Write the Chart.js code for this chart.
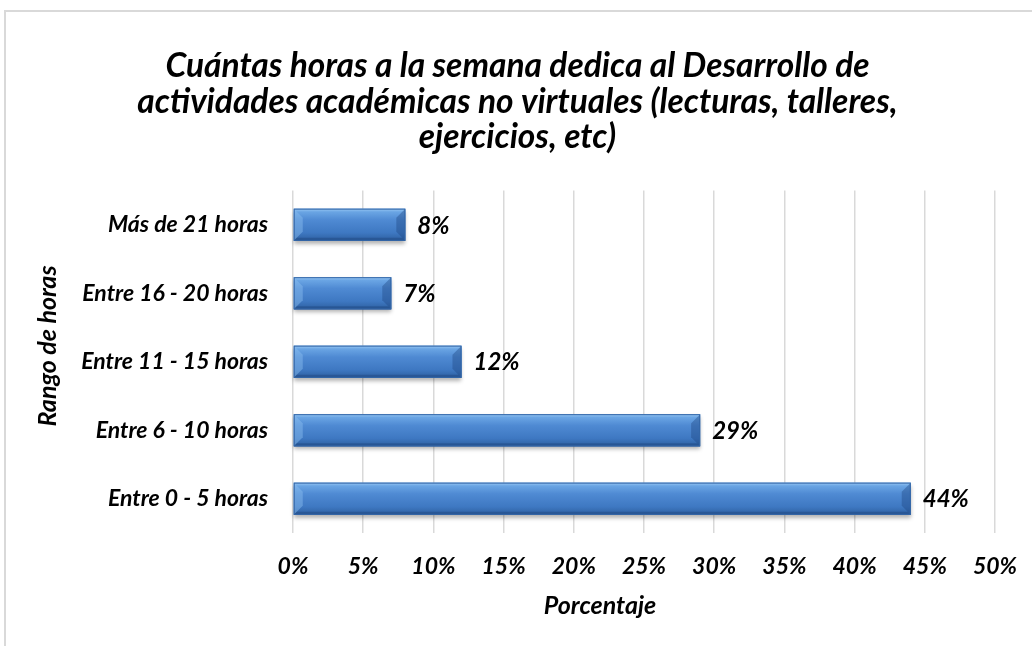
<!DOCTYPE html>
<html>
<head>
<meta charset="utf-8">
<script src="https://cdn.jsdelivr.net/npm/chart.js@4/dist/chart.umd.min.js"></script>
<style>
  html, body { margin: 0; padding: 0; background: #fff; overflow: hidden; }
  #frame { position: absolute; left: 4px; top: 10px; width: 1100px; height: 700px; border: 2px solid #d9d9d9; box-sizing: border-box; }
  #wrap { position: absolute; left: 0; top: 0; width: 1032px; height: 646px; }
</style>
</head>
<body>
<div id="frame"></div>
<div id="wrap"><canvas id="c" width="1032" height="646"></canvas></div>
<script>
const categories = ["Más de 21 horas", "Entre 16 - 20 horas", "Entre 11 - 15 horas", "Entre 6 - 10 horas", "Entre 0 - 5 horas"];
const values = [8, 7, 12, 29, 44];
const xTicks = [0, 5, 10, 15, 20, 25, 30, 35, 40, 45, 50];
const titleLines = ["Cuántas horas a la semana dedica al Desarrollo de", "actividades académicas no virtuales (lecturas, talleres,", "ejercicios, etc)"];
const yTitle = "Rango de horas";
const xTitle = "Porcentaje";

const FONT = "Lato, 'Open Sans', sans-serif";

const barStyle = {
  id: 'barStyle',
  afterDatasetsDraw(chart) {
    const ctx = chart.ctx;
    const meta = chart.getDatasetMeta(0);
    meta.data.forEach((bar) => {
      const p = bar.getProps(['x', 'y', 'base', 'height'], true);
      const x0 = Math.min(p.base, p.x), x1 = Math.max(p.base, p.x);
      const y0 = p.y - p.height / 2, y1 = p.y + p.height / 2;
      const w = x1 - x0, h = y1 - y0;
      ctx.save();
      ctx.shadowColor = 'rgba(0,0,0,0.3)';
      ctx.shadowBlur = 4;
      ctx.shadowOffsetY = 3;
      ctx.fillStyle = '#3a75bd';
      ctx.fillRect(x0, y0, w, h);
      ctx.restore();
      ctx.save();
      const g = ctx.createLinearGradient(0, y0, 0, y1);
      g.addColorStop(0, '#9ccaf4');
      g.addColorStop(0.1, '#6aa5e4');
      g.addColorStop(0.35, '#4f8ad3');
      g.addColorStop(0.75, '#3e78c2');
      g.addColorStop(1, '#2d5f9f');
      ctx.fillStyle = g;
      ctx.fillRect(x0, y0, w, h);
      const b = Math.min(h * 0.28, 9);
      ctx.fillStyle = 'rgba(140,190,240,0.45)';
      ctx.beginPath();
      ctx.moveTo(x0, y0); ctx.lineTo(x0 + b, y0 + b); ctx.lineTo(x0 + b, y1 - b); ctx.lineTo(x0, y1); ctx.closePath(); ctx.fill();
      ctx.fillStyle = 'rgba(30,70,130,0.4)';
      ctx.beginPath();
      ctx.moveTo(x1, y0); ctx.lineTo(x1 - b, y0 + b); ctx.lineTo(x1 - b, y1 - b); ctx.lineTo(x1, y1); ctx.closePath(); ctx.fill();
      ctx.fillStyle = 'rgba(25,60,115,0.35)';
      ctx.beginPath();
      ctx.moveTo(x0, y1); ctx.lineTo(x1, y1); ctx.lineTo(x1 - 3, y1 - 3); ctx.lineTo(x0 + 3, y1 - 3); ctx.closePath(); ctx.fill();
      ctx.strokeStyle = '#3467a8';
      ctx.lineWidth = 1;
      ctx.strokeRect(x0 + 0.5, y0 + 0.5, w - 1, h - 1);
      ctx.restore();
    });
    ctx.save();
    ctx.font = "italic bold 24px " + FONT;
    ctx.fillStyle = '#000';
    ctx.textAlign = 'left';
    ctx.textBaseline = 'middle';
    meta.data.forEach((bar, i) => {
      const p = bar.getProps(['x', 'y'], true);
      ctx.fillText(values[i] + '%', p.x + 12, p.y + 1);
    });
    ctx.restore();
  },
  afterDraw(chart) {
    const ctx = chart.ctx;
    ctx.save();
    ctx.fillStyle = '#000';
    ctx.textAlign = 'center';
    ctx.textBaseline = 'middle';
    ctx.font = "italic bold 25px " + FONT;
    ctx.fillText(xTitle, 600, 606);
    ctx.translate(48, 346);
    ctx.rotate(-Math.PI / 2);
    ctx.font = "italic bold 25px " + FONT;
    ctx.fillText(yTitle, 0, 0);
    ctx.restore();
  }
};

new Chart(document.getElementById('c'), {
  type: 'bar',
  data: {
    labels: categories,
    datasets: [{
      data: values,
      backgroundColor: 'rgba(0,0,0,0)',
      borderWidth: 0,
      barPercentage: 0.47,
      categoryPercentage: 1
    }]
  },
  plugins: [barStyle],
  options: {
    indexAxis: 'y',
    responsive: false,
    animation: false,
    devicePixelRatio: 1,
    layout: { padding: { left: 40, right: 37, top: 0, bottom: 0 } },
    plugins: {
      legend: { display: false },
      tooltip: { enabled: false },
      title: {
        display: true,
        text: titleLines,
        color: '#000',
        font: { family: FONT, size: 33.5, weight: 'bold', style: 'italic', lineHeight: 1.05 },
        padding: { top: 49, bottom: 36 }
      }
    },
    scales: {
      x: {
        min: 0, max: 50,
        afterBuildTicks(scale) { scale.ticks = xTicks.map(v => ({ value: v })); },
        afterFit(scale) { scale.height = 113; scale.paddingRight = 0; scale.paddingLeft = 0; },
        ticks: {
          callback: (v) => v + '%',
          color: '#000',
          padding: 20,
          maxRotation: 0,
          font: { family: FONT, size: 23, weight: 'bold', style: 'italic' }
        },
        grid: { color: '#d9d9d9', lineWidth: 1.5, drawTicks: false },
        border: { display: false },
        title: { display: false }
      },
      y: {
        afterFit(scale) { scale.width = 253; },
        ticks: {
          color: '#000',
          padding: 25,
          font: { family: FONT, size: 23, weight: 'bold', style: 'italic' }
        },
        grid: { display: false, drawTicks: false },
        border: { display: false },
        title: { display: false }
      }
    }
  }
});
</script>
</body>
</html>
